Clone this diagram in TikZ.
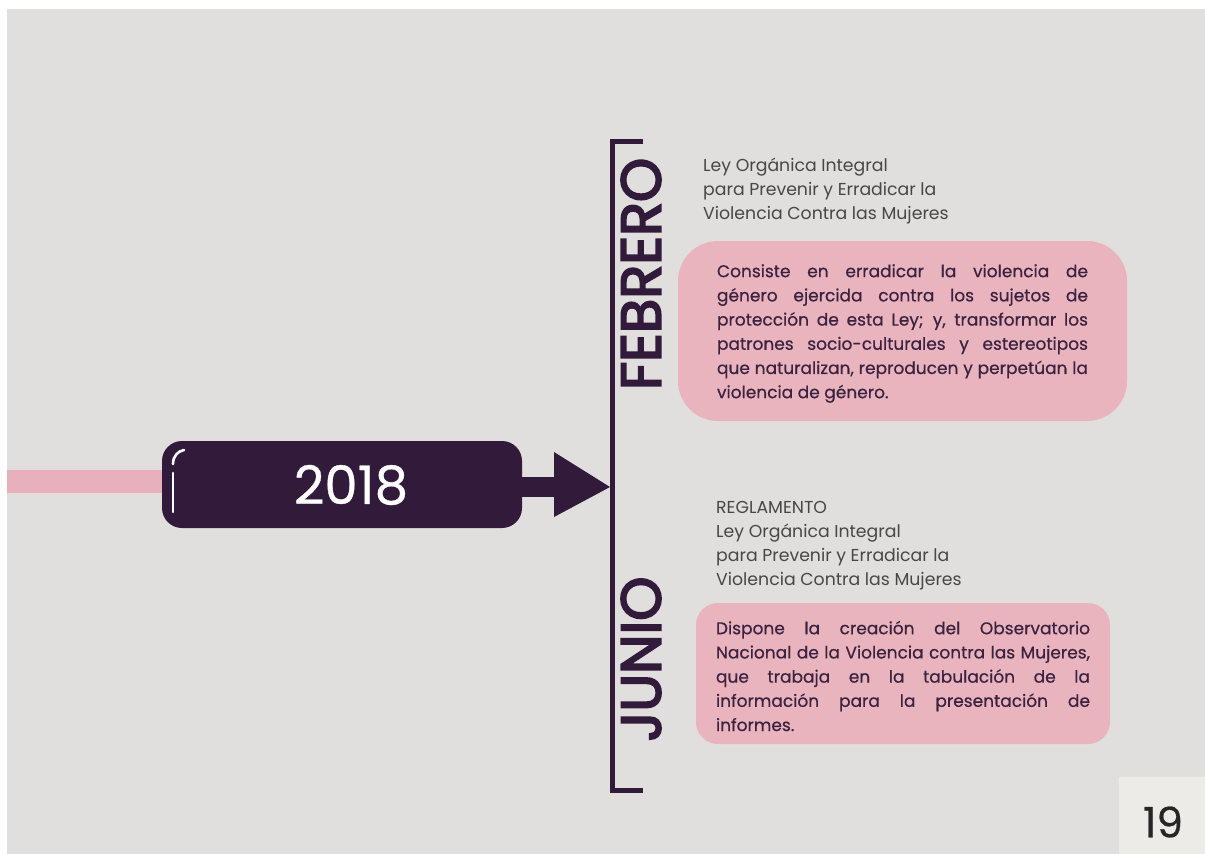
\documentclass[tikz,border=0pt]{standalone}
\usepackage{fontspec}
\setmainfont{Poppins}
\newfontfamily\heavyfont{Poppins}[FakeBold=3.5]
\newfontfamily\midfont{Poppins}[FakeBold=0.6]
\definecolor{bggray}{HTML}{E0DFDD}
\definecolor{pagebox}{HTML}{ECEBE7}
\definecolor{dpurple}{HTML}{321A3B}
\definecolor{pinkfill}{HTML}{E9B4BE}
\definecolor{pinkline}{HTML}{E8B0BC}
\definecolor{headgray}{HTML}{474747}
\definecolor{bodytext}{HTML}{3B2340}
\newcommand{\jl}[1]{\makebox[\linewidth][s]{#1}\\}
\begin{document}
\begin{tikzpicture}[x=1pt,y=-1pt,
  pinkbox/.style={fill=pinkfill, draw=none, inner sep=0pt},
  bodyfont/.style={font=\midfont\fontsize{17}{24.2}\selectfont, text=bodytext},
  headfont/.style={font=\fontsize{17.3}{24}\selectfont, text=headgray, align=left, inner sep=0pt, anchor=north west},
  monthfont/.style={font=\heavyfont\fontsize{56}{60}\selectfont, text=dpurple, rotate=90, inner sep=0pt},
  bracket/.style={draw=dpurple, line width=5pt, miter limit=10}
]
\useasboundingbox (0,0) rectangle (1205,854);
\fill[white] (0,0) rectangle (1205,854);
\fill[bggray] (7,9) rectangle (1205,854);
\fill[pagebox] (1119,777) rectangle (1205,854);
\node[font=\midfont\fontsize{42}{46}\selectfont, text=black!85] (page) at (1163,822) {19};

% year box
\node[fill=dpurple, rounded corners=20pt, minimum width=360pt, minimum height=87pt, inner sep=0pt] (year) at (342,484.5) {};
\node[font=\midfont\fontsize{53}{56}\selectfont, text=white] (yeartext) at (351,485) {2018};
\coordinate (lstart) at (7,481.5);
\draw[pinkline, line width=23pt] (lstart) -- (lstart -| year.west);
\draw[white, line width=2.6pt, line cap=round] (173,464) .. controls (173,456) and (178,451) .. (184,450);
\draw[white, line width=2.6pt, line cap=round] (173,473) -- (173,512);

% arrow
\coordinate (tip) at (610,487);
\coordinate (tribase) at (554,487);
\draw[dpurple, line width=20pt] (year.east |- tip) -- (tribase);
\fill[dpurple] (554,452) -- (tip) -- (554,517) -- cycle;

% bracket
\coordinate (btop) at (643,141);
\coordinate (bbot) at (643,790);
\draw[bracket] (btop) -- (612,141) -- (612,790) -- (bbot);

\node[monthfont] (feb) at (641,274) {FEBRERO};
\node[monthfont] (jun) at (641,659) {JUNIO};

% february
\node[headfont] (h1) at (703,158) {Ley Orgánica Integral\\para Prevenir y Erradicar la\\Violencia Contra las Mujeres};
\node[pinkbox, rounded corners=40pt, minimum width=449pt, minimum height=180pt, bodyfont] (b1) at (902.5,331) {\parbox{371pt}{\vspace*{5pt}%
\jl{Consiste en erradicar la violencia de}%
\jl{género ejercida contra los sujetos de}%
\jl{protección de esta Ley; y, transformar los}%
\jl{patrones socio-culturales y estereotipos}%
\jl{que naturalizan, reproducen y perpetúan la}%
violencia de género.}};

% june
\node[headfont] (h2) at (716,501) {REGLAMENTO\\Ley Orgánica Integral\\para Prevenir y Erradicar la\\Violencia Contra las Mujeres};
\node[pinkbox, rounded corners=22pt, minimum width=414pt, minimum height=141pt, bodyfont] (b2) at (903,673.5) {\parbox{374pt}{\vspace*{5pt}%
\jl{Dispone la creación del Observatorio}%
\jl{Nacional de la Violencia contra las Mujeres,}%
\jl{que trabaja en la tabulación de la}%
\jl{información para la presentación de}%
informes.}};
\end{tikzpicture}
\end{document}
